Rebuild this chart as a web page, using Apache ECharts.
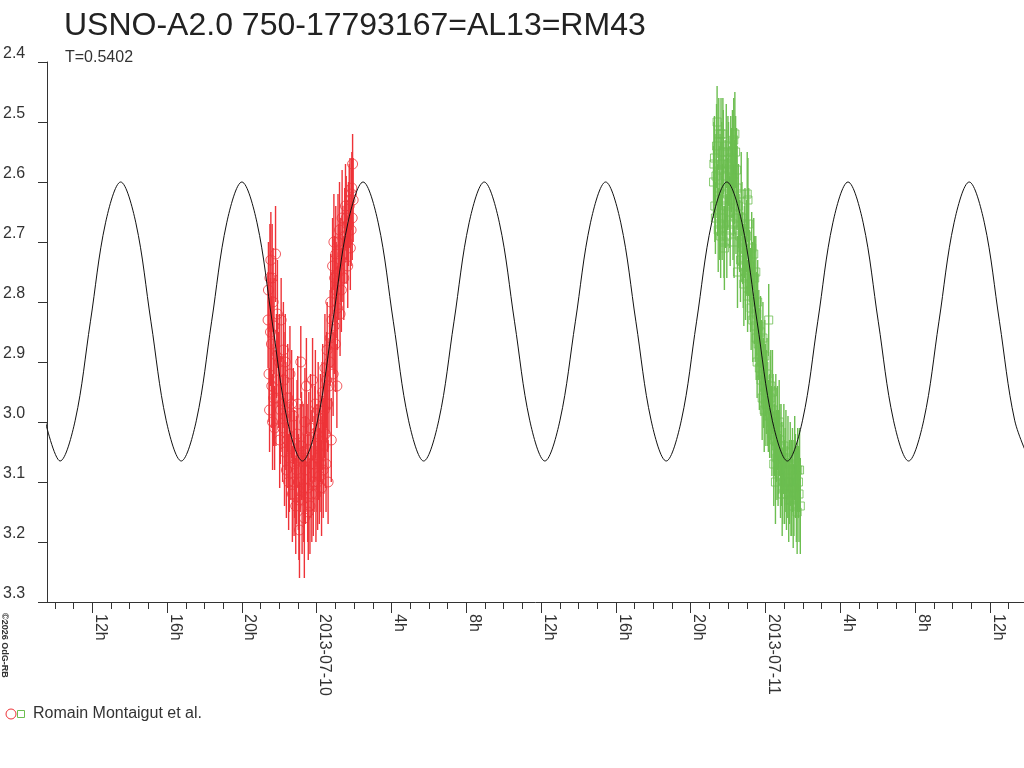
<!DOCTYPE html>
<html>
<head>
<meta charset="utf-8">
<title>USNO-A2.0 750-17793167=AL13=RM43</title>
<script src="https://cdn.jsdelivr.net/npm/echarts@6/dist/echarts.min.js"></script>
<style>
  html, body { margin: 0; padding: 0; background: #fff; }
  #chart { width: 1024px; height: 768px; }
</style>
</head>
<body>
<div id="chart"></div>
<script>
// hours counted from 2013-07-10 00:00
const xMin = -14.42;
const xMax = 37.82;
const majorHours = [-12, -8, -4, 0, 4, 8, 12, 16, 20, 24, 28, 32, 36];
const minorHours = [-14, -13, -12, -11, -10, -9, -8, -7, -6, -5, -4, -3, -2, -1, 0, 1, 2, 3, 4, 5, 6, 7, 8, 9, 10,
  11, 12, 13, 14, 15, 16, 17, 18, 19, 20, 21, 22, 23, 24, 25, 26, 27, 28, 29, 30, 31, 32, 33, 34, 35, 36, 37];

// fitted light curve (T=0.5402 d)
const modelTimes = [-14.53, -13.72, -12.91, -12.10, -11.29, -10.48, -9.67, -8.86, -8.05, -7.24, -6.43, -5.62, -4.81,
  -4.00, -3.19, -2.38, -1.57, -0.76, 0.05, 0.86, 1.67, 2.48, 3.29, 4.10, 4.91, 5.72, 6.53, 7.34, 8.15, 8.96, 9.77,
  10.58, 11.39, 12.20, 13.01, 13.83, 14.64, 15.45, 16.26, 17.07, 17.88, 18.69, 19.50, 20.31, 21.12, 21.93, 22.74,
  23.55, 24.36, 25.17, 25.98, 26.79, 27.60, 28.41, 29.22, 30.03, 30.84, 31.65, 32.46, 33.27, 34.08, 34.89, 35.70,
  36.51, 37.32, 38.13];
const modelMags = [2.997, 3.065, 2.997, 2.833, 2.668, 2.600, 2.668, 2.833,
  2.997, 3.065, 2.997, 2.833, 2.668, 2.600, 2.668, 2.833,
  2.997, 3.065, 2.997, 2.833, 2.668, 2.600, 2.668, 2.833,
  2.997, 3.065, 2.997, 2.833, 2.668, 2.600, 2.668, 2.833,
  2.997, 3.065, 2.997, 2.833, 2.668, 2.600, 2.668, 2.833,
  2.997, 3.065, 2.997, 2.833, 2.668, 2.600, 2.668, 2.833,
  2.997, 3.065, 2.997, 2.833, 2.668, 2.600, 2.668, 2.833,
  2.997, 3.065, 2.997, 2.833, 2.668, 2.600, 2.668, 2.833,
  2.997, 3.065];

// first night (red circles)
const redTimes = [-2.60, -2.55, -2.52, -2.50, -2.45, -2.42, -2.40, -2.36, -2.33, -2.30,
  -2.25, -2.20, -2.15, -2.05, -1.98, -1.90, -1.85, -1.78, -1.72, -1.68,
  -1.62, -1.55, -1.50, -1.43, -1.38, -1.30, -1.25, -1.18, -1.12, -1.05,
  -0.98, -0.92, -0.88, -0.85, -0.78, -0.72, -0.66, -0.60, -0.55, -0.48,
  -0.42, -0.36, -0.30, -0.22, -0.18, -0.10, -0.04, 0.02, 0.08, 0.14,
  0.20, 0.26, 0.32, 0.38, 0.44, 0.50, 0.56, 0.61, 0.66, 0.72,
  0.78, 0.82, 0.88, 0.92, 0.96, 1.00, 1.04, 1.08, 1.14, 1.25,
  1.32, 1.40, 1.50, 1.58, 1.66, 1.74, 1.80, 1.86, 1.88, 1.90, 1.92,
  -2.58, -2.47, -2.38, -2.28, -2.18, -2.10, -2.00, -1.94, -1.82, -1.75,
  -1.65, -1.58, -1.46, -1.34, -1.21, -1.08, -1.01, -0.95, -0.81, -0.69,
  -0.63, -0.51, -0.45, -0.33, -0.26, -0.14, -0.07, 0.05, 0.11, 0.23,
  0.29, 0.35, 0.41, 0.47, 0.53, 0.59, 0.69, 0.75, 0.85, 0.94,
  1.02, 1.11, 1.18, 1.22, 1.29, 1.36, 1.45, 1.54, 1.62, 1.70,
  1.78, 1.84, 1.95];
const redMags = [2.83, 2.92, 2.98, 2.76, 2.73, 2.87, 2.94, 3.00, 2.80, 2.96,
  3.01, 2.72, 2.89, 2.93, 3.03, 2.83, 2.97, 2.88, 3.05, 2.90,
  3.08, 2.96, 3.10, 2.92, 3.04, 3.12, 2.99, 3.07, 3.14, 3.02,
  3.10, 3.18, 3.06, 2.90, 3.13, 3.05, 3.16, 3.08, 2.94, 3.11,
  3.03, 3.14, 3.07, 2.93, 3.10, 3.02, 3.12, 3.06, 2.98, 3.09,
  3.01, 3.11, 2.95, 3.04, 2.91, 3.07, 2.88, 3.10, 2.94, 2.86,
  3.03, 2.83, 2.92, 2.70, 2.76, 2.87, 2.78, 2.94, 2.70, 2.82,
  2.78, 2.72, 2.69, 2.66, 2.74, 2.64, 2.71, 2.62, 2.61, 2.66, 2.57,
  2.78, 2.85, 2.76, 2.84, 2.96, 2.82, 2.90, 2.98, 3.01, 2.93,
  2.99, 3.03, 3.06, 2.97, 3.10, 3.08, 2.97, 3.13, 3.04, 3.11,
  3.00, 3.06, 3.15, 3.01, 3.12, 3.07, 2.97, 3.10, 3.04, 3.07,
  2.99, 3.08, 2.98, 3.02, 2.93, 2.97, 2.90, 2.80, 2.74, 2.84,
  2.72, 2.81, 2.75, 2.68, 2.73, 2.66, 2.76, 2.64, 2.70, 2.67,
  2.63, 2.68, 2.63];
const redErrs = [0.08, 0.08, 0.07, 0.09, 0.08, 0.08, 0.07, 0.08, 0.09, 0.08,
  0.07, 0.08, 0.07, 0.08, 0.08, 0.07, 0.08, 0.08, 0.09, 0.08,
  0.08, 0.09, 0.08, 0.08, 0.09, 0.08, 0.08, 0.09, 0.08, 0.09,
  0.08, 0.08, 0.09, 0.06, 0.09, 0.08, 0.10, 0.09, 0.08, 0.09,
  0.08, 0.08, 0.09, 0.07, 0.09, 0.08, 0.08, 0.09, 0.08, 0.08,
  0.09, 0.08, 0.08, 0.08, 0.09, 0.08, 0.08, 0.07, 0.08, 0.08,
  0.07, 0.08, 0.07, 0.08, 0.07, 0.08, 0.08, 0.07, 0.08, 0.07,
  0.07, 0.08, 0.08, 0.07, 0.07, 0.07, 0.07, 0.06, 0.06, 0.07, 0.05,
  0.08, 0.09, 0.09, 0.08, 0.08, 0.09, 0.08, 0.09, 0.09, 0.08,
  0.09, 0.08, 0.09, 0.09, 0.09, 0.09, 0.08, 0.10, 0.09, 0.09,
  0.09, 0.09, 0.08, 0.09, 0.08, 0.08, 0.09, 0.08, 0.09, 0.08,
  0.09, 0.08, 0.08, 0.09, 0.08, 0.08, 0.08, 0.08, 0.08, 0.08,
  0.08, 0.07, 0.08, 0.08, 0.07, 0.08, 0.07, 0.07, 0.07, 0.07,
  0.07, 0.06, 0.07];

// second night (green squares)
const greenTimes = [21.22, 21.27, 21.32, 21.38, 21.44, 21.50, 21.52, 21.55, 21.60, 21.62,
  21.66, 21.70, 21.74, 21.78, 21.80, 21.84, 21.90, 21.96, 22.02, 22.08,
  22.14, 22.20, 22.26, 22.30, 22.32, 22.36, 22.40, 22.45, 22.50, 22.55,
  22.62, 22.70, 22.78, 22.84, 22.90, 22.96, 23.02, 23.04, 23.06, 23.10,
  23.14, 23.20, 23.26, 23.32, 23.37, 23.42, 23.48, 23.50, 23.55, 23.58,
  23.64, 23.70, 23.76, 23.82, 23.86, 23.90, 23.96, 24.02, 24.08, 24.12,
  24.17, 24.22, 24.28, 24.34, 24.40, 24.44, 24.50, 24.53, 24.58, 24.64,
  24.70, 24.76, 24.80, 24.86, 24.92, 24.98, 25.05, 25.12, 25.20, 25.28,
  25.36, 25.44, 25.52, 25.60, 25.69, 25.76, 25.82, 25.86,
  21.24, 21.29, 21.35, 21.41, 21.47, 21.57, 21.68, 21.72, 21.87, 21.93,
  21.99, 22.05, 22.11, 22.17, 22.23, 22.28, 22.34, 22.42, 22.48, 22.58,
  22.66, 22.74, 22.81, 22.87, 22.93, 22.99, 23.08, 23.17, 23.23, 23.29,
  23.40, 23.45, 23.53, 23.61, 23.67, 23.73, 23.79, 23.88, 23.93, 23.99,
  24.05, 24.15, 24.25, 24.31, 24.37, 24.47, 24.55, 24.61, 24.67, 24.73,
  24.83, 24.89, 24.95, 25.02, 25.09, 25.16, 25.24, 25.32, 25.40, 25.48,
  25.56, 25.65, 25.72, 25.79];
const greenMags = [2.60, 2.56, 2.66, 2.54, 2.63, 2.52, 2.61, 2.67, 2.69, 2.52,
  2.57, 2.63, 2.55, 2.70, 2.71, 2.59, 2.54, 2.62, 2.57, 2.65,
  2.56, 2.60, 2.67, 2.53, 2.70, 2.52, 2.55, 2.58, 2.75, 2.64,
  2.69, 2.62, 2.71, 2.77, 2.67, 2.73, 2.62, 2.79, 2.63, 2.67,
  2.74, 2.78, 2.71, 2.83, 2.72, 2.76, 2.75, 2.86, 2.90, 2.80,
  2.84, 2.88, 2.93, 2.96, 2.86, 2.94, 2.89, 2.97, 2.92, 2.97,
  2.83, 2.99, 2.94, 3.02, 2.98, 3.07, 3.00, 3.10, 3.04, 3.01,
  3.05, 3.03, 3.09, 3.07, 3.11, 3.04, 3.08, 3.12, 3.06, 3.10,
  3.13, 3.08, 3.11, 3.09, 3.15, 3.10, 3.08, 3.14,
  2.57, 2.64, 2.59, 2.50, 2.68, 2.58, 2.66, 2.52, 2.64, 2.69,
  2.55, 2.61, 2.68, 2.58, 2.55, 2.63, 2.60, 2.66, 2.61, 2.68,
  2.73, 2.66, 2.74, 2.70, 2.76, 2.69, 2.72, 2.77, 2.81, 2.76,
  2.80, 2.84, 2.82, 2.87, 2.91, 2.85, 2.90, 2.92, 2.98, 2.93,
  2.95, 2.99, 2.96, 3.00, 2.95, 3.03, 2.99, 3.06, 3.08, 3.00,
  3.04, 3.12, 3.06, 3.10, 3.05, 3.10, 3.13, 3.07, 3.11, 3.14,
  3.06, 3.12, 3.08, 3.12];
const greenErrs = [0.06, 0.07, 0.06, 0.07, 0.06, 0.06, 0.07, 0.06, 0.07, 0.06,
  0.07, 0.06, 0.07, 0.06, 0.07, 0.06, 0.07, 0.06, 0.07, 0.06,
  0.07, 0.06, 0.06, 0.07, 0.06, 0.07, 0.06, 0.07, 0.06, 0.07,
  0.06, 0.07, 0.06, 0.07, 0.06, 0.06, 0.07, 0.06, 0.07, 0.06,
  0.06, 0.07, 0.06, 0.07, 0.06, 0.07, 0.06, 0.07, 0.06, 0.07,
  0.06, 0.07, 0.06, 0.07, 0.06, 0.07, 0.06, 0.07, 0.06, 0.07,
  0.06, 0.07, 0.06, 0.07, 0.06, 0.07, 0.06, 0.07, 0.06, 0.07,
  0.07, 0.06, 0.07, 0.07, 0.06, 0.07, 0.07, 0.06, 0.07, 0.07,
  0.06, 0.07, 0.08, 0.07, 0.07, 0.06, 0.07, 0.08,
  0.07, 0.06, 0.07, 0.06, 0.07, 0.06, 0.07, 0.06, 0.07, 0.07,
  0.06, 0.07, 0.06, 0.07, 0.07, 0.06, 0.07, 0.06, 0.07, 0.06,
  0.07, 0.06, 0.07, 0.06, 0.07, 0.06, 0.07, 0.06, 0.07, 0.06,
  0.07, 0.06, 0.07, 0.06, 0.07, 0.06, 0.07, 0.06, 0.07, 0.06,
  0.07, 0.06, 0.07, 0.06, 0.07, 0.06, 0.07, 0.07, 0.06, 0.07,
  0.07, 0.07, 0.06, 0.07, 0.07, 0.06, 0.07, 0.07, 0.08, 0.07,
  0.07, 0.08, 0.07, 0.08];

const RED = '#ee3338';
const GREEN = '#6cbe50';
const FONT = '"Liberation Sans", Arial, sans-serif';

const redPoints = redTimes.map((t, i) => [t, redMags[i], redErrs[i]]);
const greenPoints = greenTimes.map((t, i) => [t, greenMags[i], greenErrs[i]]);
const modelPoints = modelTimes.map((t, i) => [t, modelMags[i]]);

function hourLabel(v) {
  const hr = Math.round(v);
  const h = ((hr % 24) + 24) % 24;
  if (h === 0) return '2013-07-' + (10 + hr / 24);
  return h + 'h';
}

// vertical error bar for each measurement
function errorBar(color) {
  return function (params, api) {
    const x = api.value(0), m = api.value(1), e = api.value(2);
    const top = api.coord([x, m - e]);
    const bot = api.coord([x, m + e]);
    return {
      type: 'line',
      shape: { x1: top[0], y1: top[1], x2: top[0], y2: bot[1] },
      style: { stroke: color, lineWidth: 1.4 }
    };
  };
}

const chart = echarts.init(document.getElementById('chart'));

chart.setOption({
  animation: false,
  backgroundColor: '#fff',
  title: [
    {
      text: 'USNO-A2.0 750-17793167=AL13=RM43',
      left: 64, top: 10, padding: 0,
      textStyle: { fontSize: 32, fontWeight: 'normal', color: '#222', fontFamily: FONT }
    },
    {
      text: 'T=0.5402',
      left: 65, top: 50, padding: 0,
      textStyle: { fontSize: 16, fontWeight: 'normal', color: '#333', fontFamily: FONT }
    }
  ],
  grid: { left: 45, right: 0, top: 62, bottom: 166, containLabel: false },
  xAxis: [
    {
      type: 'value', min: xMin, max: xMax, position: 'bottom',
      axisLine: { show: true, onZero: false, lineStyle: { color: '#333', width: 1 } },
      axisTick: { show: true, customValues: majorHours, length: 11, lineStyle: { color: '#333' } },
      axisLabel: {
        show: true, customValues: majorHours, rotate: -90, formatter: hourLabel,
        margin: 12, verticalAlign: 'bottom', fontSize: 16, color: '#333', fontFamily: FONT
      },
      splitLine: { show: false }
    },
    {
      type: 'value', min: xMin, max: xMax, position: 'bottom',
      axisLine: { show: false, onZero: false },
      axisTick: { show: true, customValues: minorHours, length: 7, lineStyle: { color: '#333' } },
      axisLabel: { show: false },
      splitLine: { show: false }
    }
  ],
  yAxis: {
    type: 'value', inverse: true, min: 2.4, max: 3.3, interval: 0.1, position: 'left',
    axisLine: { show: true, onZero: false, lineStyle: { color: '#333', width: 1 } },
    axisTick: { show: true, length: 9, lineStyle: { color: '#333' } },
    axisLabel: {
      formatter: v => v.toFixed(1), align: 'left', margin: 44, verticalAlign: 'bottom',
      fontSize: 16, color: '#333', fontFamily: FONT
    },
    splitLine: { show: false }
  },
  graphic: [
    { type: 'circle', shape: { cx: 11, cy: 714, r: 5 }, style: { fill: 'none', stroke: RED, lineWidth: 1 } },
    { type: 'rect', shape: { x: 17.5, y: 710.5, width: 7, height: 7 }, style: { fill: 'none', stroke: GREEN, lineWidth: 1 } },
    {
      type: 'text', x: 33, y: 714,
      style: { text: 'Romain Montaigut et al.', fontSize: 16, fontFamily: FONT, fill: '#333', align: 'left', verticalAlign: 'middle' }
    },
    {
      type: 'text', x: 0, y: 613, rotation: -Math.PI / 2,
      style: { text: '\u00a92026 OdG-RB', fontSize: 9, fontWeight: 'bold', fontFamily: FONT, fill: '#333', align: 'left', verticalAlign: 'bottom' }
    }
  ],
  series: [
    {
      type: 'custom', name: 'red bars', xAxisIndex: 0, silent: true, z: 2,
      renderItem: errorBar(RED), encode: { x: 0, y: 1 }, data: redPoints
    },
    {
      type: 'custom', name: 'green bars', xAxisIndex: 0, silent: true, z: 2,
      renderItem: errorBar(GREEN), encode: { x: 0, y: 1 }, data: greenPoints
    },
    {
      type: 'scatter', name: 'red', xAxisIndex: 0, silent: true, z: 3,
      symbol: 'circle', symbolSize: 10,
      itemStyle: { color: 'rgba(0,0,0,0)', borderColor: RED, borderWidth: 1 },
      data: redPoints.map(p => [p[0], p[1]])
    },
    {
      type: 'scatter', name: 'green', xAxisIndex: 0, silent: true, z: 3,
      symbol: 'rect', symbolSize: 8,
      itemStyle: { color: 'rgba(0,0,0,0)', borderColor: GREEN, borderWidth: 1 },
      data: greenPoints.map(p => [p[0], p[1]])
    },
    {
      type: 'line', name: 'model', xAxisIndex: 0, silent: true, z: 5,
      smooth: 0.35, symbol: 'none',
      lineStyle: { color: '#111', width: 1 },
      data: modelPoints
    }
  ]
});
</script>
</body>
</html>
